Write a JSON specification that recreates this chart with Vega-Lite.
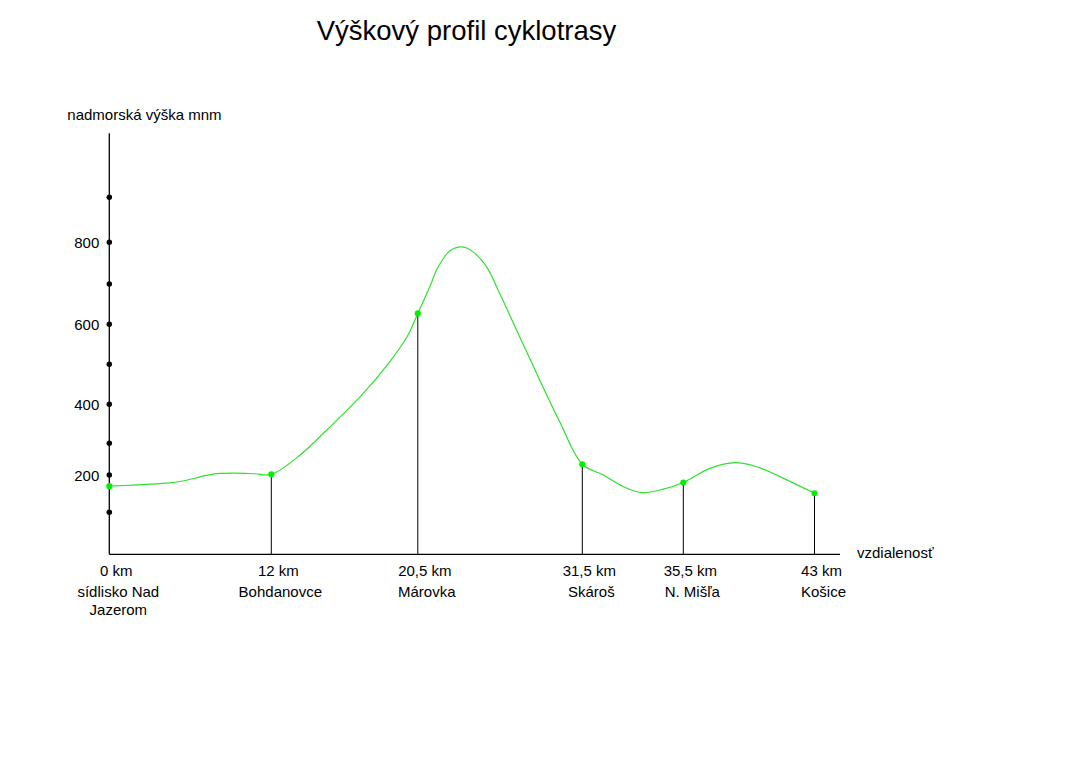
{
  "$schema": "https://vega.github.io/schema/vega-lite/v6.json",
  "width": 1069,
  "height": 766,
  "autosize": {"type": "none"},
  "padding": 0,
  "background": "white",
  "config": {"view": {"stroke": null}, "font": "Liberation Sans"},
  "title": {"text": "Výškový profil cyklotrasy", "anchor": "middle", "dx": -68, "offset": -67, "baseline": "alphabetic", "fontSize": 27.5, "fontWeight": "normal", "font": "Liberation Sans", "color": "black"},
  "datasets": {
    "stops": [
      {"km": 0, "elev": 170, "km_label": "0 km", "name": "sídlisko Nad\nJazerom"},
      {"km": 12, "elev": 202, "km_label": "12 km", "name": "Bohdanovce"},
      {"km": 20.5, "elev": 627, "km_label": "20,5 km", "name": "Márovka"},
      {"km": 31.5, "elev": 234, "km_label": "31,5 km", "name": "Skároš"},
      {"km": 35.5, "elev": 180, "km_label": "35,5 km", "name": "N. Mišľa"},
      {"km": 43, "elev": 151, "km_label": "43 km", "name": "Košice"}
    ],
    "profile": [
      {"km": 0, "elev": 170}, {"km": 1.76, "elev": 173}, {"km": 4.27, "elev": 178},
      {"km": 5.46, "elev": 184}, {"km": 6.72, "elev": 195}, {"km": 7.68, "elev": 203},
      {"km": 9.16, "elev": 206}, {"km": 10.79, "elev": 204}, {"km": 12, "elev": 202},
      {"km": 13.67, "elev": 263}, {"km": 15.22, "elev": 334}, {"km": 17.16, "elev": 419},
      {"km": 18.72, "elev": 498}, {"km": 19.88, "elev": 569}, {"km": 20.5, "elev": 627},
      {"km": 21.3, "elev": 693}, {"km": 21.76, "elev": 734}, {"km": 22.19, "elev": 760},
      {"km": 22.65, "elev": 780}, {"km": 23.47, "elev": 789},
      {"km": 24.2, "elev": 777}, {"km": 25.1, "elev": 741}, {"km": 25.97, "elev": 677},
      {"km": 27.31, "elev": 569}, {"km": 28.65, "elev": 461}, {"km": 29.99, "elev": 355},
      {"km": 31.5, "elev": 234}, {"km": 32.33, "elev": 200}, {"km": 33.12, "elev": 169},
      {"km": 33.85, "elev": 153}, {"km": 34.71, "elev": 162}, {"km": 35.5, "elev": 180},
      {"km": 37.03, "elev": 221}, {"km": 38.46, "elev": 239}, {"km": 39.69, "elev": 226},
      {"km": 41.41, "elev": 187}, {"km": 43, "elev": 151}
    ],
    "yticks": [
      {"km": 0, "elev": 100, "label": ""}, {"km": 0, "elev": 200, "label": "200"},
      {"km": 0, "elev": 300, "label": ""}, {"km": 0, "elev": 400, "label": "400"},
      {"km": 0, "elev": 500, "label": ""}, {"km": 0, "elev": 600, "label": "600"},
      {"km": 0, "elev": 700, "label": ""}, {"km": 0, "elev": 800, "label": "800"},
      {"km": 0, "elev": 900, "label": ""}
    ],
    "axislines": [
      {"km": 0, "elev": 0, "km2": 0, "elev2": 1040},
      {"km": 0, "elev": 0, "km2": 44.46, "elev2": 0}
    ],
    "ytitle": [{"km": 0, "elev": 1040, "text": "nadmorská výška mnm"}],
    "xtitle": [{"km": 44.46, "elev": 0, "text": "vzdialenosť"}]
  },
  "encoding": {
    "x": {"field": "km", "type": "quantitative", "axis": null,
      "scale": {"domain": [0, 12, 20.5, 31.5, 35.5, 43, 44.46], "range": [109.3, 271.3, 417.8, 582.3, 683.3, 814.5, 840], "zero": false, "nice": false}},
    "y": {"field": "elev", "type": "quantitative", "axis": null,
      "scale": {"domain": [0, 100, 200, 300, 400, 500, 600, 700, 800, 900, 1040], "range": [554.3, 512.3, 475, 443.3, 404.3, 364.3, 324.3, 284, 242.3, 197.3, 133.3], "zero": false, "nice": false}}
  },
  "layer": [
    {
      "data": {"name": "axislines"},
      "mark": {"type": "rule", "color": "black", "strokeWidth": 1.3},
      "encoding": {"x2": {"field": "km2"}, "y2": {"field": "elev2"}}
    },
    {
      "data": {"name": "stops"},
      "transform": [{"filter": "datum.km > 0"}],
      "mark": {"type": "rule", "color": "black", "strokeWidth": 1},
      "encoding": {"y2": {"datum": 0}}
    },
    {
      "data": {"name": "profile"},
      "mark": {"type": "line", "color": "#2fe02f", "strokeWidth": 1.2, "interpolate": "catmull-rom"}
    },
    {
      "data": {"name": "yticks"},
      "mark": {"type": "point", "filled": true, "color": "black", "size": 30, "opacity": 1}
    },
    {
      "data": {"name": "yticks"},
      "mark": {"type": "text", "align": "right", "baseline": "middle", "dx": -10, "dy": 1, "fontSize": 15, "color": "black"},
      "encoding": {"text": {"field": "label"}}
    },
    {
      "data": {"name": "stops"},
      "mark": {"type": "point", "filled": true, "color": "#00f000", "size": 38, "opacity": 1}
    },
    {
      "data": {"name": "stops"},
      "mark": {"type": "text", "align": "center", "baseline": "alphabetic", "dx": 7, "dy": 22, "fontSize": 15, "color": "black"},
      "encoding": {"y": {"datum": 0}, "text": {"field": "km_label"}}
    },
    {
      "data": {"name": "stops"},
      "mark": {"type": "text", "align": "center", "baseline": "alphabetic", "dx": 9, "dy": 43, "fontSize": 15, "lineBreak": "\n", "lineHeight": 18, "color": "black"},
      "encoding": {"y": {"datum": 0}, "text": {"field": "name"}}
    },
    {
      "data": {"name": "ytitle"},
      "mark": {"type": "text", "align": "left", "baseline": "alphabetic", "dx": -42, "dy": -13, "fontSize": 15, "color": "black"},
      "encoding": {"text": {"field": "text"}}
    },
    {
      "data": {"name": "xtitle"},
      "mark": {"type": "text", "align": "left", "baseline": "alphabetic", "dx": 17, "dy": 4, "fontSize": 15, "color": "black"},
      "encoding": {"text": {"field": "text"}}
    }
  ]
}
